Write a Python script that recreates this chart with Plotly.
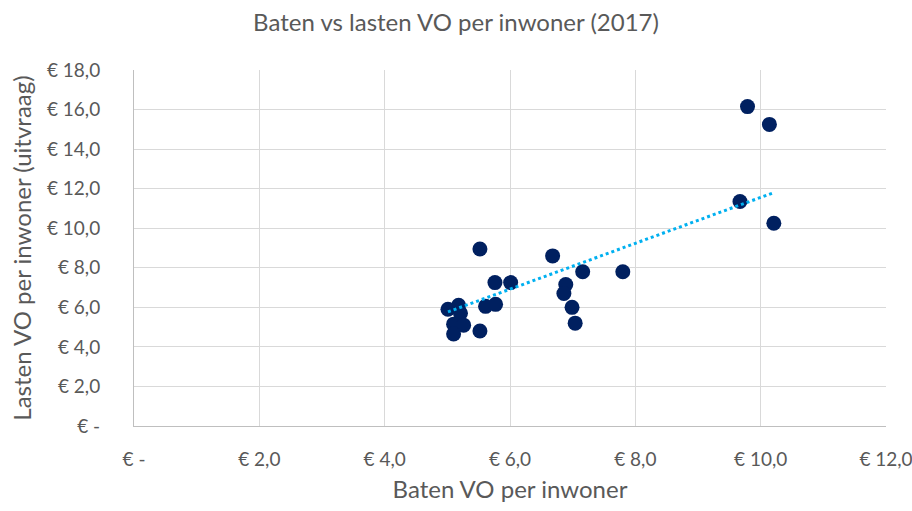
import plotly.graph_objects as go

# Baten en lasten voortgezet onderwijs per inwoner (euro), 2017
baten = [9.79, 10.14, 9.67, 10.21, 5.52, 6.68, 7.16, 7.80, 5.76, 6.01, 6.89, 6.86,
         5.01, 5.18, 5.61, 5.77, 6.99, 5.21, 5.10, 5.26, 5.10, 5.52, 7.04]
lasten = [16.15, 15.25, 11.35, 10.25, 8.95, 8.60, 7.80, 7.80, 7.25, 7.25, 7.15, 6.70,
          5.90, 6.10, 6.05, 6.15, 6.00, 5.70, 5.15, 5.10, 4.65, 4.80, 5.20]

# Linear trend line (start and end values)
trend_baten = [5.01, 10.21]
trend_lasten = [5.77, 11.80]

x_ticks = [0, 2, 4, 6, 8, 10, 12]
x_ticklabels = ["€ -", "€ 2,0", "€ 4,0", "€ 6,0", "€ 8,0", "€ 10,0", "€ 12,0"]
y_ticks = [0, 2, 4, 6, 8, 10, 12, 14, 16, 18]
y_ticklabels = ["€ -", "€ 2,0", "€ 4,0", "€ 6,0", "€ 8,0", "€ 10,0",
                "€ 12,0", "€ 14,0", "€ 16,0", "€ 18,0"]

FONT = "Source Sans Pro, Lato, Noto Sans, sans-serif"
GREY = "#595959"

fig = go.Figure()
fig.add_trace(go.Scatter(
    x=baten, y=lasten, mode="markers",
    marker=dict(color="#002060", size=15, line=dict(width=0)),
    showlegend=False, hoverinfo="x+y",
))
fig.add_trace(go.Scatter(
    x=trend_baten, y=trend_lasten, mode="lines",
    line=dict(color="#00B0F0", width=3, dash="dot"),
    showlegend=False, hoverinfo="skip",
))

fig.update_layout(
    width=912, height=511,
    margin=dict(l=134, r=26, t=70, b=85, autoexpand=False),
    paper_bgcolor="white", plot_bgcolor="white",
    font=dict(family=FONT, color=GREY, size=19),
    title=dict(text="Baten vs lasten VO per inwoner (2017)",
               x=0.5, xanchor="center", y=0.955, yanchor="middle",
               font=dict(size=24, color=GREY)),
    xaxis=dict(
        range=[0, 12], tickvals=x_ticks, ticktext=x_ticklabels,
        showgrid=True, gridcolor="#D9D9D9", gridwidth=1,
        zeroline=False, showline=True, linecolor="#BFBFBF", linewidth=1,
        ticks="", ticklabelstandoff=16, ticklabeloverflow="allow",
        automargin=False,
        tickfont=dict(size=19, color=GREY),
        title=dict(text="Baten VO per inwoner", font=dict(size=24, color=GREY), standoff=12),
    ),
    yaxis=dict(
        range=[0, 18], tickvals=y_ticks, ticktext=y_ticklabels,
        showgrid=True, gridcolor="#D9D9D9", gridwidth=1,
        zeroline=False, showline=True, linecolor="#BFBFBF", linewidth=1,
        ticks="", ticklabelstandoff=29, automargin=False,
        tickfont=dict(size=19, color=GREY),
        title=dict(text="Lasten VO per inwoner (uitvraag)", font=dict(size=24, color=GREY), standoff=8),
    ),
)

fig.write_html("out.html")
